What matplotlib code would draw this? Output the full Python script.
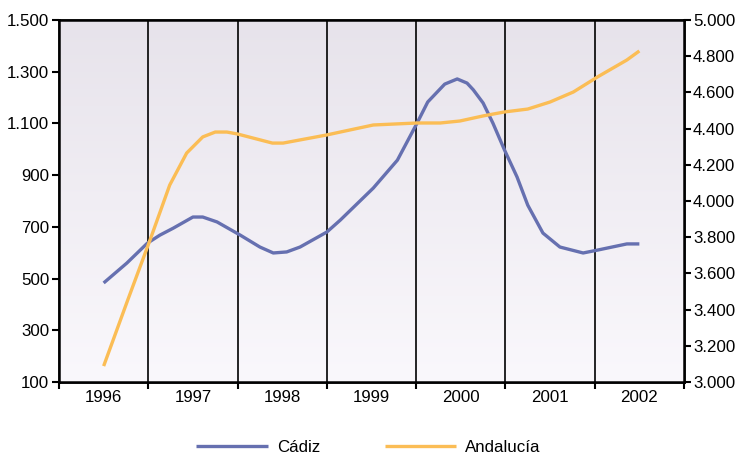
import numpy as np
import matplotlib.pyplot as plt
from matplotlib.ticker import FuncFormatter
from matplotlib.colors import LinearSegmentedColormap

plt.rcParams['font.family'] = ['Liberation Sans', 'DejaVu Sans']

years = ['1996', '1997', '1998', '1999', '2000', '2001', '2002']

# position in years counted from start of 1996
t_cadiz = [0.50, 0.76, 0.99, 1.13, 1.28, 1.50, 1.61, 1.77, 2.03, 2.25, 2.40,
           2.55, 2.70, 3.00, 3.15, 3.52, 3.79, 4.01, 4.13, 4.32, 4.46, 4.57,
           4.64, 4.75, 4.86, 4.99, 5.13, 5.25, 5.42, 5.61, 5.87, 6.03, 6.36, 6.50]
cadiz = [483, 560, 637, 668, 695, 738, 738, 719, 668, 622, 599, 603, 622, 680,
         726, 850, 958, 1101, 1183, 1252, 1272, 1256, 1230, 1179, 1101, 997,
         893, 784, 676, 622, 599, 610, 634, 634]

t_and = [0.50, 0.77, 1.02, 1.24, 1.43, 1.61, 1.75, 1.88, 2.00, 2.39, 2.51,
         3.00, 3.15, 3.52, 4.01, 4.27, 4.49, 4.75, 4.99, 5.25, 5.50, 5.76,
         6.03, 6.36, 6.50]
andalucia = [3088, 3453, 3785, 4088, 4265, 4354, 4381, 4381, 4370, 4320, 4320,
             4365, 4381, 4420, 4431, 4431, 4442, 4470, 4492, 4508, 4547, 4602,
             4685, 4779, 4829]

c_cadiz = '#6670b0'
c_and = '#fbbd55'
fs = 12.2

fig = plt.figure(figsize=(7.37, 4.55), dpi=100)
ax = fig.add_axes([59 / 737, 1 - 382 / 455, 625 / 737, 362 / 455])
ax2 = ax.twinx()

# everything drawn on the right axis so both lines sit above the background
grad = np.linspace(0, 1, 256).reshape(-1, 1)
cmap = LinearSegmentedColormap.from_list('bg', ['#faf8fc', '#e7e3eb'])
ax2.imshow(grad, aspect='auto', cmap=cmap, extent=[0, 7, 3000, 5000],
           origin='lower', zorder=0)
for b in range(1, 7):
    ax2.axvline(b, color='black', lw=1.2, zorder=1)

cadiz_r = np.interp(cadiz, [100, 1500], [3000, 5000])
l1, = ax2.plot(t_cadiz, cadiz_r, color=c_cadiz, lw=2.4, zorder=3,
               solid_joinstyle='round', solid_capstyle='butt')
l2, = ax2.plot(t_and, andalucia, color=c_and, lw=2.4, zorder=3,
               solid_joinstyle='round', solid_capstyle='butt')

ax.set_xlim(0, 7)
ax2.set_xlim(0, 7)
ax.set_ylim(100, 1500)
ax2.set_ylim(3000, 5000)
ax.set_yticks(range(100, 1501, 200))
ax2.set_yticks(range(3000, 5001, 200))

fmt = FuncFormatter(lambda v, p: f'{int(v):,}'.replace(',', '.'))
ax.yaxis.set_major_formatter(fmt)
ax2.yaxis.set_major_formatter(fmt)

ax.set_xticks(range(0, 8))
ax.set_xticklabels([])
ax.set_xticks(np.arange(7) + 0.5, minor=True)
ax.set_xticklabels(years, minor=True)
ax.tick_params(axis='x', which='minor', length=0, labelsize=fs, pad=6)
ax.tick_params(axis='x', which='major', direction='out', length=5, width=1.5)
ax.tick_params(axis='y', direction='out', length=5, width=1.5, labelsize=fs, pad=2)
ax2.tick_params(axis='y', direction='out', length=5, width=1.5, labelsize=fs, pad=1.5)

for a in (ax, ax2):
    for s in a.spines.values():
        s.set_linewidth(1.8)
ax.patch.set_visible(False)

fig.legend([l1, l2], ['Cádiz', 'Andalucía'], loc='center',
           bbox_to_anchor=(0.5, 1 - 447 / 455), ncol=2, frameon=False,
           handlelength=4.2, handletextpad=0.55, columnspacing=3.8, fontsize=fs)

fig.savefig('out.png', dpi=100)
